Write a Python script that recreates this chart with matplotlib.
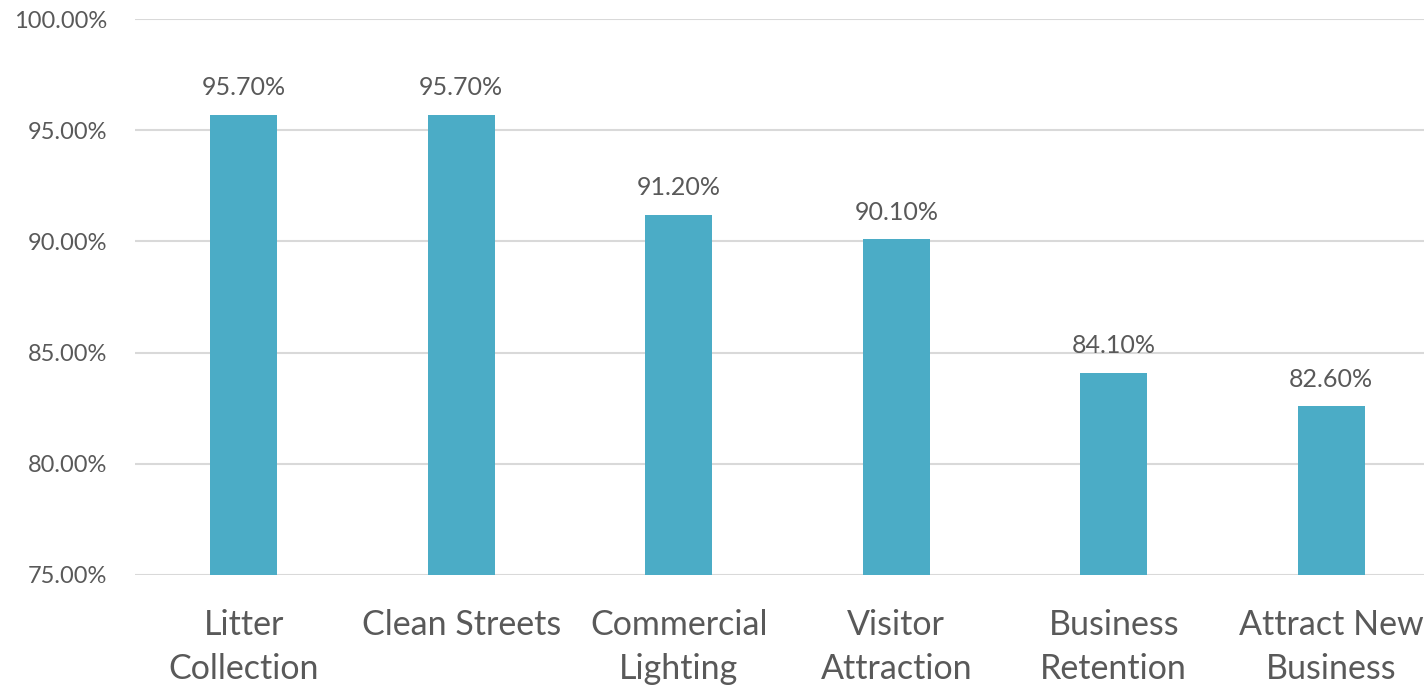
import matplotlib.pyplot as plt
from matplotlib.ticker import FuncFormatter

# Survey results by service category
categories = ["Litter\nCollection", "Clean Streets", "Commercial\nLighting",
              "Visitor\nAttraction", "Business\nRetention", "Attract New\nBusiness"]
values = [95.7, 95.7, 91.2, 90.1, 84.1, 82.6]
y_ticks = [75, 80, 85, 90, 95, 100]

plt.rcParams['font.family'] = ['Lato', 'DejaVu Sans']
text_color = "#595959"
bar_color = "#4BACC6"
grid_color = "#D9D9D9"

fig = plt.figure(figsize=(14.24, 6.87), dpi=100)
ax = fig.add_axes([135 / 1424, 1 - 575 / 687, 1305 / 1424, (575 - 19) / 687])

x = range(len(categories))
bars = ax.bar(x, values, width=0.31, color=bar_color, zorder=3)

# value labels above each bar
for xi, v in zip(x, values):
    ax.annotate(f"{v:.2f}%", (xi, v), xytext=(0, 11), textcoords="offset points",
                ha="center", va="bottom", fontsize=18, color=text_color)

ax.set_xlim(-0.5, len(categories) - 0.5)
ax.set_ylim(75, 100)
ax.set_yticks(y_ticks)
ax.yaxis.set_major_formatter(FuncFormatter(lambda v, p: f"{v:.2f}%"))
ax.set_xticks(list(x))
ax.set_xticklabels(categories, fontsize=24.5, color=text_color, linespacing=1.46)

ax.grid(axis="y", color=grid_color, linewidth=1.5, zorder=0)
for s in ax.spines.values():
    s.set_visible(False)
ax.tick_params(axis="y", length=0, labelsize=17, labelcolor=text_color, pad=20)
ax.tick_params(axis="x", length=0, pad=24.5)

plt.savefig("out.png", dpi=100)
